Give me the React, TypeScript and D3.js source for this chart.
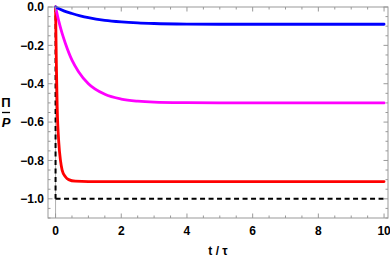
import React from 'react';
import { scaleLinear, line, curveMonotoneX, range } from 'd3';

// readings
const blueT = [0, 0.25, 0.5, 0.75, 1, 1.5, 2, 2.5, 3, 4, 5, 10];
const blueV = [0, -0.02, -0.034, -0.046, -0.056, -0.07, -0.078, -0.083, -0.086, -0.089, -0.09, -0.09];

const magentaT = [0, 0.1, 0.2, 0.3, 0.5, 0.7, 1, 1.5, 2, 2.5, 3, 4, 5, 10];
const magentaV = [0, -0.075, -0.138, -0.19, -0.277, -0.337, -0.4, -0.455, -0.48, -0.491, -0.496, -0.499, -0.5, -0.5];

const redT = [0, 0.025, 0.05, 0.1, 0.15, 0.2, 0.3, 0.4, 0.6, 1, 10];
const redV = [0, -0.3, -0.52, -0.71, -0.8, -0.85, -0.885, -0.9, -0.908, -0.91, -0.91];

const limitV = -1;
const xTicks = [0, 2, 4, 6, 8, 10];
const yTicks = [0, -0.2, -0.4, -0.6, -0.8, -1.0];

const W = 390;
const H = 257;
const frame = { left: 48, right: 388, top: 7, bottom: 218 };

const font = '"Liberation Sans", Arial, sans-serif';
const frameColor = '#999999';

export default function App() {
  const x = scaleLinear().domain([-0.23, 10.12]).range([frame.left, frame.right]);
  const y = scaleLinear().domain([-1.1, 0]).range([frame.bottom, frame.top]);

  const path = line<[number, number]>()
    .x(d => x(d[0]))
    .y(d => y(d[1]))
    .curve(curveMonotoneX);

  const series = [
    { t: redT, v: redV, color: '#ff0000' },
    { t: magentaT, v: magentaV, color: '#ff00ff' },
    { t: blueT, v: blueV, color: '#0000ff' },
  ];

  const xMinor = range(0, 10.01, 0.5).filter(v => !xTicks.includes(v));
  const yMinor = range(-1.1, 0.001, 0.05).map(v => Math.round(v * 100) / 100)
    .filter(v => !yTicks.some(t => Math.abs(t - v) < 1e-6));

  const fmt = (v: number) => (v < 0 ? '\u2212' + Math.abs(v).toFixed(1) : v.toFixed(1));

  return (
    <svg width={W} height={H} style={{ position: 'absolute', left: 0, top: 0 }}>
      <defs>
        <clipPath id="plot">
          <rect x={frame.left} y={frame.top - 2} width={frame.right - frame.left} height={frame.bottom - frame.top + 2} />
        </clipPath>
      </defs>

      {/* axis line at t = 0 */}
      <line x1={x(0)} x2={x(0)} y1={frame.top} y2={frame.bottom} stroke="#b0b0b0" strokeWidth={1} />

      {/* dashed limit */}
      <g stroke="#000" strokeWidth={2} strokeDasharray="5,3.5" fill="none">
        <line x1={x(0)} x2={x(0)} y1={y(0)} y2={y(limitV)} />
        <line x1={x(0)} x2={x(10)} y1={y(limitV)} y2={y(limitV)} />
      </g>

      <g clipPath="url(#plot)">
        {series.map((s, i) => (
          <path key={i} d={path(s.t.map((t, j) => [t, s.v[j]] as [number, number])) || ''}
            fill="none" stroke={s.color} strokeWidth={2.8} strokeLinejoin="round" strokeLinecap="round" />
        ))}
      </g>

      {/* frame */}
      <rect x={frame.left} y={frame.top} width={frame.right - frame.left} height={frame.bottom - frame.top}
        fill="none" stroke={frameColor} strokeWidth={1} />

      {/* ticks */}
      <g stroke={frameColor} strokeWidth={1}>
        {xTicks.map(t => (
          <g key={'xt' + t}>
            <line x1={x(t)} x2={x(t)} y1={frame.bottom} y2={frame.bottom - 4.5} />
            <line x1={x(t)} x2={x(t)} y1={frame.top} y2={frame.top + 4.5} />
          </g>
        ))}
        {xMinor.map(t => (
          <g key={'xm' + t}>
            <line x1={x(t)} x2={x(t)} y1={frame.bottom} y2={frame.bottom - 2.5} />
            <line x1={x(t)} x2={x(t)} y1={frame.top} y2={frame.top + 2.5} />
          </g>
        ))}
        {yTicks.map(t => (
          <g key={'yt' + t}>
            <line x1={frame.left} x2={frame.left + 4.5} y1={y(t)} y2={y(t)} />
            <line x1={frame.right} x2={frame.right - 4.5} y1={y(t)} y2={y(t)} />
          </g>
        ))}
        {yMinor.map(t => (
          <g key={'ym' + t}>
            <line x1={frame.left} x2={frame.left + 2.5} y1={y(t)} y2={y(t)} />
            <line x1={frame.right} x2={frame.right - 2.5} y1={y(t)} y2={y(t)} />
          </g>
        ))}
      </g>

      {/* tick labels */}
      <g fontFamily={font} fontWeight="bold" fontSize={12} fill="#000">
        {xTicks.map(t => (
          <text key={'xl' + t} x={x(t)} y={235} textAnchor="middle">{t}</text>
        ))}
        {yTicks.map(t => (
          <text key={'yl' + t} x={44} y={y(t) + 4.3} textAnchor="end">{fmt(t)}</text>
        ))}
      </g>

      {/* axis titles */}
      <text x={(frame.left + frame.right) / 2} y={255} textAnchor="middle"
        fontFamily={font} fontWeight="bold" fontSize={12}>t / τ</text>
      <g fontFamily={font} fontWeight="bold" fontSize={13}>
        <text x={6} y={107} textAnchor="middle">Π</text>
        <line x1={2} x2={10} y1={112.5} y2={112.5} stroke="#000" strokeWidth={1.3} />
        <text x={6} y={127} textAnchor="middle" fontStyle="italic">P</text>
      </g>
    </svg>
  );
}
